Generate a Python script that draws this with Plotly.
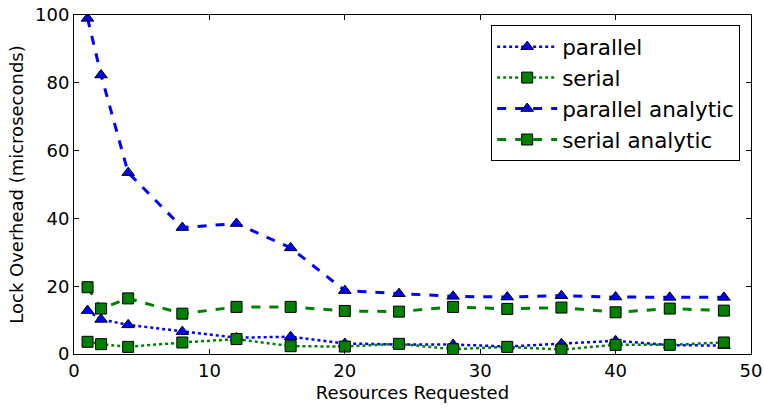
import plotly.graph_objects as go

resources = [1, 2, 4, 8, 12, 16, 20, 24, 28, 32, 36, 40, 44, 48]
parallel = [12.8, 10.2, 8.6, 6.6, 4.8, 5.1, 3.1, 2.8, 2.8, 2.2, 3.0, 3.9, 2.6, 2.5]
serial = [3.6, 2.9, 2.1, 3.4, 4.4, 2.3, 2.2, 3.0, 1.4, 2.1, 1.3, 2.7, 2.7, 3.4]
parallel_analytic = [99.0, 82.3, 53.5, 37.3, 38.5, 31.3, 18.7, 17.8, 17.0, 16.8, 17.2, 16.8, 16.7, 16.7]
serial_analytic = [19.7, 13.4, 16.4, 11.9, 13.9, 13.9, 12.7, 12.5, 13.9, 13.3, 13.7, 12.3, 13.4, 12.8]

BLUE = "#0000ff"
GREEN = "#008000"

fig = go.Figure()

def add(name, y, color, dash, symbol, width):
    fig.add_trace(go.Scatter(
        x=resources, y=y, name=name, mode="lines+markers",
        line=dict(color=color, dash=dash, width=width),
        marker=dict(symbol=symbol, size=11, color=color,
                    line=dict(color="black", width=1)),
    ))

add("parallel", parallel, BLUE, "dot", "triangle-up", 2.5)
add("serial", serial, GREEN, "dot", "square", 2.5)
add("parallel analytic", parallel_analytic, BLUE, "dash", "triangle-up", 3)
add("serial analytic", serial_analytic, GREEN, "dash", "square", 3)

font = dict(family="DejaVu Sans", size=18, color="black")

fig.update_layout(
    width=764, height=408,
    margin=dict(l=74, r=13, t=15, b=54),
    paper_bgcolor="white", plot_bgcolor="white",
    font=font,
    showlegend=True,
    legend=dict(
        x=0.984, y=0.97, xanchor="right", yanchor="top",
        bgcolor="white", bordercolor="black", borderwidth=1,
        font=dict(family="DejaVu Sans", size=21.5, color="black"),
        tracegroupgap=0, itemwidth=60,
    ),
    xaxis=dict(
        range=[0, 50], tickvals=[0, 10, 20, 30, 40, 50],
        showgrid=False, zeroline=False, automargin=False,
        showline=True, linecolor="black", linewidth=1, mirror="ticks",
        ticks="inside", ticklen=5, tickcolor="black",
        title=dict(text="Resources Requested", standoff=6, font=font),
        tickfont=font,
    ),
    yaxis=dict(
        range=[0, 100], tickvals=[0, 20, 40, 60, 80, 100],
        showgrid=False, zeroline=False, automargin=False,
        showline=True, linecolor="black", linewidth=1, mirror="ticks",
        ticks="inside", ticklen=5, tickcolor="black",
        title=dict(text="Lock Overhead (microseconds)", standoff=6, font=font),
        tickfont=font,
    ),
)

fig.write_html("out.html")
